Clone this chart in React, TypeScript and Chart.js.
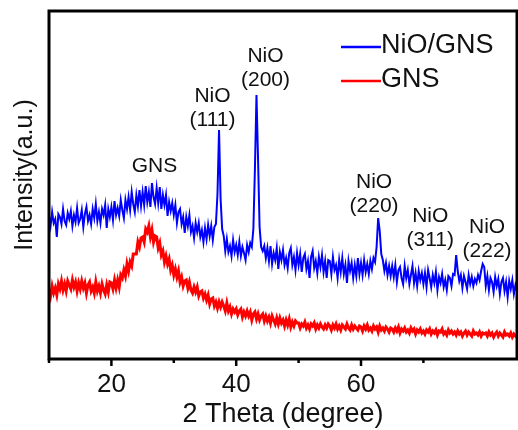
import React, { useEffect, useRef } from "react";
import { Chart, registerables } from "chart.js";

Chart.register(...registerables);

// 2-theta positions (degree)
const theta: number[] = [
  10, 10.25, 10.5, 10.75, 11, 11.25, 11.5, 11.75, 12, 12.25, 12.5, 12.75, 13, 13.25, 13.5, 13.75, 14, 14.25, 14.5, 14.75,
  15, 15.25, 15.5, 15.75, 16, 16.25, 16.5, 16.75, 17, 17.25, 17.5, 17.75, 18, 18.25, 18.5, 18.75, 19, 19.25, 19.5, 19.75,
  20, 20.25, 20.5, 20.75, 21, 21.25, 21.5, 21.75, 22, 22.25, 22.5, 22.75, 23, 23.25, 23.5, 23.75, 24, 24.25, 24.5, 24.75,
  25, 25.25, 25.5, 25.75, 26, 26.25, 26.5, 26.75, 27, 27.25, 27.5, 27.75, 28, 28.25, 28.5, 28.75, 29, 29.25, 29.5, 29.75,
  30, 30.25, 30.5, 30.75, 31, 31.25, 31.5, 31.75, 32, 32.25, 32.5, 32.75, 33, 33.25, 33.5, 33.75, 34, 34.25, 34.5, 34.75,
  35, 35.25, 35.5, 35.75, 36, 36.25, 36.5, 36.75, 37, 37.25, 37.5, 37.75, 38, 38.25, 38.5, 38.75, 39, 39.25, 39.5, 39.75,
  40, 40.25, 40.5, 40.75, 41, 41.25, 41.5, 41.75, 42, 42.25, 42.5, 42.75, 43, 43.25, 43.5, 43.75, 44, 44.25, 44.5, 44.75,
  45, 45.25, 45.5, 45.75, 46, 46.25, 46.5, 46.75, 47, 47.25, 47.5, 47.75, 48, 48.25, 48.5, 48.75, 49, 49.25, 49.5, 49.75,
  50, 50.25, 50.5, 50.75, 51, 51.25, 51.5, 51.75, 52, 52.25, 52.5, 52.75, 53, 53.25, 53.5, 53.75, 54, 54.25, 54.5, 54.75,
  55, 55.25, 55.5, 55.75, 56, 56.25, 56.5, 56.75, 57, 57.25, 57.5, 57.75, 58, 58.25, 58.5, 58.75, 59, 59.25, 59.5, 59.75,
  60, 60.25, 60.5, 60.75, 61, 61.25, 61.5, 61.75, 62, 62.25, 62.5, 62.75, 63, 63.25, 63.5, 63.75, 64, 64.25, 64.5, 64.75,
  65, 65.25, 65.5, 65.75, 66, 66.25, 66.5, 66.75, 67, 67.25, 67.5, 67.75, 68, 68.25, 68.5, 68.75, 69, 69.25, 69.5, 69.75,
  70, 70.25, 70.5, 70.75, 71, 71.25, 71.5, 71.75, 72, 72.25, 72.5, 72.75, 73, 73.25, 73.5, 73.75, 74, 74.25, 74.5, 74.75,
  75, 75.25, 75.5, 75.75, 76, 76.25, 76.5, 76.75, 77, 77.25, 77.5, 77.75, 78, 78.25, 78.5, 78.75, 79, 79.25, 79.5, 79.75,
  80, 80.25, 80.5, 80.75, 81, 81.25, 81.5, 81.75, 82, 82.25, 82.5, 82.75, 83, 83.25, 83.5, 83.75, 84, 84.25, 84.5, 84.75, 85,
];

// NiO/GNS intensity (a.u.)
const nioGns: number[] = [
  143, 133, 147, 136, 140, 122, 145, 142, 135, 150, 138, 134, 146, 140, 148, 133, 144, 137, 151, 136,
  140, 149, 132, 145, 152, 138, 144, 135, 150, 141, 155, 138, 147, 136, 150, 144, 154, 131, 150, 142,
  152, 139, 158, 144, 151, 143, 159, 149, 141, 159, 150, 162, 149, 167, 155, 147, 164, 153, 169, 153,
  167, 154, 173, 157, 167, 152, 176, 162, 155, 171, 156, 172, 150, 164, 154, 164, 143, 157, 148, 156,
  144, 154, 136, 147, 150, 135, 142, 126, 142, 133, 144, 127, 133, 121, 136, 127, 136, 122, 129, 117,
  131, 120, 134, 123, 133, 119, 132, 135, 165, 229, 160, 130, 123, 108, 120, 107, 113, 103, 119, 107,
  114, 104, 117, 103, 112, 106, 99, 114, 107, 116, 112, 130, 190, 264, 200, 132, 112, 108, 113, 101,
  111, 98, 113, 95, 106, 99, 111, 90, 107, 99, 109, 94, 101, 91, 106, 111, 94, 102, 89, 106,
  94, 105, 87, 101, 105, 90, 98, 81, 102, 108, 91, 98, 86, 102, 92, 104, 87, 98, 81, 99,
  98, 85, 102, 89, 94, 81, 99, 87, 101, 85, 94, 76, 98, 88, 96, 81, 94, 83, 101, 85,
  96, 84, 99, 87, 95, 85, 98, 90, 101, 97, 112, 141, 128, 105, 99, 88, 96, 84, 93, 83,
  93, 82, 94, 77, 89, 92, 81, 75, 93, 81, 89, 75, 84, 93, 76, 86, 73, 88, 79, 86,
  75, 86, 72, 89, 81, 72, 84, 76, 87, 69, 82, 76, 85, 72, 79, 69, 83, 81, 73, 85,
  84, 104, 88, 78, 84, 71, 83, 77, 70, 84, 75, 82, 73, 80, 76, 84, 79, 88, 95, 92,
  73, 83, 69, 81, 77, 67, 82, 73, 80, 65, 77, 81, 68, 77, 62, 78, 70, 79, 65, 74, 68,
];

// GNS intensity (a.u.)
const gns: number[] = [
  70, 63, 73, 66, 71, 64, 75, 70, 78, 69, 75, 68, 78, 74, 70, 79, 72, 77, 68, 76,
  70, 78, 71, 76, 66, 74, 77, 68, 72, 66, 77, 68, 73, 66, 75, 69, 65, 74, 67, 77,
  76, 70, 79, 71, 79, 72, 84, 81, 89, 83, 95, 88, 97, 93, 105, 105, 105, 117, 112, 121,
  122, 117, 130, 127, 133, 122, 129, 117, 123, 122, 111, 116, 104, 108, 97, 103, 95, 100, 89, 94,
  84, 90, 82, 88, 77, 82, 73, 78, 79, 71, 77, 69, 66, 72, 67, 72, 63, 67, 68, 61,
  65, 59, 64, 55, 60, 61, 53, 57, 51, 57, 52, 57, 53, 48, 56, 48, 52, 45, 50, 47,
  50, 44, 48, 50, 42, 47, 43, 48, 43, 47, 39, 45, 47, 40, 45, 39, 43, 45, 38, 43,
  38, 42, 36, 43, 39, 35, 41, 35, 41, 36, 39, 33, 39, 34, 40, 32, 37, 33, 38, 36,
  36, 31, 35, 33, 37, 31, 34, 30, 35, 33, 36, 30, 34, 31, 35, 32, 30, 34, 31, 35,
  33, 29, 34, 31, 35, 30, 33, 29, 34, 32, 30, 35, 31, 29, 34, 30, 33, 31, 29, 33,
  32, 28, 33, 30, 34, 29, 31, 28, 33, 30, 32, 27, 33, 29, 31, 28, 32, 30, 27, 31,
  30, 27, 31, 28, 32, 26, 30, 28, 31, 27, 29, 26, 31, 28, 30, 25, 29, 27, 30, 26,
  28, 25, 29, 27, 30, 25, 28, 26, 29, 24, 28, 27, 30, 25, 27, 24, 29, 26, 28, 25,
  27, 24, 28, 25, 27, 23, 26, 28, 24, 27, 25, 23, 28, 25, 26, 24, 27, 23, 26, 25,
  26, 23, 27, 24, 26, 22, 25, 27, 23, 26, 24, 22, 27, 24, 25, 23, 26, 22, 25, 23, 24,
];

const seriesNames = ["NiO/GNS", "GNS"];
const labeledTicks = [20, 40, 60, 80];

// peak annotations: text lines, anchored at (2-theta, intensity) of the first line
const peakNotes = [
  { lines: ["NiO", "(111)"], at: 36.2, level: 257 },
  { lines: ["NiO", "(200)"], at: 44.7, level: 297 },
  { lines: ["GNS"], at: 26.9, level: 187 },
  { lines: ["NiO", "(220)"], at: 62.1, level: 171 },
  { lines: ["NiO", "(311)"], at: 71.1, level: 137 },
  { lines: ["NiO", "(222)"], at: 80.2, level: 126 },
];

const FONT = "'Liberation Sans', Arial, sans-serif";

export default function App() {
  const ref = useRef<HTMLCanvasElement>(null);

  useEffect(() => {
    document.body.style.margin = "0";
    const canvas = ref.current!;

    const decor = {
      id: "decor",
      afterDatasetsDraw(chart: any) {
        const { ctx, chartArea: a, scales } = chart;
        const xs = scales.x;
        const ys = scales.y;
        ctx.save();
        // frame
        ctx.strokeStyle = "#000";
        ctx.lineWidth = 3;
        ctx.strokeRect(a.left, a.top, a.right - a.left, a.bottom - a.top);
        // ticks (outward)
        ctx.lineWidth = 2.5;
        xs.ticks.forEach((t: any) => {
          if (t.value % 10 !== 0) return;
          const px = xs.getPixelForValue(t.value);
          const len = labeledTicks.includes(t.value) ? 7 : 4;
          ctx.beginPath();
          ctx.moveTo(px, a.bottom);
          ctx.lineTo(px, a.bottom + len);
          ctx.stroke();
        });
        // peak annotations
        ctx.fillStyle = "#111";
        ctx.font = `21px ${FONT}`;
        ctx.textAlign = "center";
        ctx.textBaseline = "alphabetic";
        peakNotes.forEach((n) => {
          const px = xs.getPixelForValue(n.at);
          const py = ys.getPixelForValue(n.level);
          n.lines.forEach((s, i) => ctx.fillText(s, px, py + i * 23.5));
        });
        // legend
        ctx.font = `27px ${FONT}`;
        ctx.textAlign = "left";
        chart.data.datasets.forEach((d: any, i: number) => {
          const ly = a.top + 36 + i * 34;
          const lx = a.right - 176;
          ctx.strokeStyle = d.borderColor;
          ctx.lineWidth = 2.5;
          ctx.beginPath();
          ctx.moveTo(lx, ly);
          ctx.lineTo(lx + 40, ly);
          ctx.stroke();
          ctx.fillStyle = "#111";
          ctx.fillText(d.label, lx + 40, ly + 6);
        });
        // y title
        ctx.font = `25px ${FONT}`;
        ctx.textAlign = "center";
        ctx.translate(32, (a.top + a.bottom) / 2 - 10);
        ctx.rotate(-Math.PI / 2);
        ctx.fillText("Intensity(a.u.)", 0, 0);
        ctx.restore();
      },
    };

    const chart = new Chart(canvas, {
      type: "line",
      data: {
        datasets: [
          {
            label: seriesNames[0],
            data: theta.map((t, i) => ({ x: t, y: nioGns[i] })),
            borderColor: "rgb(0,0,255)",
            borderWidth: 2,
            pointRadius: 0,
            tension: 0,
          },
          {
            label: seriesNames[1],
            data: theta.map((t, i) => ({ x: t, y: gns[i] })),
            borderColor: "rgb(255,0,0)",
            borderWidth: 3,
            pointRadius: 0,
            tension: 0,
          },
        ],
      },
      options: {
        animation: false,
        responsive: false,
        maintainAspectRatio: false,
        layout: { padding: { top: 11, right: 1, left: 0, bottom: 0 } },
        plugins: { legend: { display: false }, tooltip: { enabled: false } },
        scales: {
          x: {
            type: "linear",
            min: 10,
            max: 85,
            afterFit: (s: any) => {
              s.height = 71;
              s.paddingLeft = 0;
              s.paddingRight = 0;
            },
            grid: { display: false, drawTicks: false },
            border: { display: false },
            ticks: {
              stepSize: 10,
              autoSkip: false,
              maxRotation: 0,
              padding: 13,
              color: "#111",
              font: { family: FONT, size: 26, lineHeight: 1 },
              callback: (v: any) => (labeledTicks.includes(Number(v)) ? String(v) : ""),
            },
            title: {
              display: true,
              text: "2 Theta (degree)",
              color: "#111",
              font: { family: FONT, size: 27, lineHeight: 1 },
              padding: { top: 0, bottom: 2 },
            },
          },
          y: {
            min: 0,
            max: 348,
            afterFit: (s: any) => {
              s.width = 49;
              s.paddingTop = 0;
              s.paddingBottom = 0;
            },
            grid: { display: false, drawTicks: false },
            border: { display: false },
            ticks: { display: false },
          },
        },
      },
      plugins: [decor],
    });
    return () => chart.destroy();
  }, []);

  return (
    <div style={{ position: "absolute", left: 0, top: 0, width: 518, height: 430, background: "#fff" }}>
      <canvas ref={ref} width={518} height={430} style={{ display: "block" }} />
    </div>
  );
}
